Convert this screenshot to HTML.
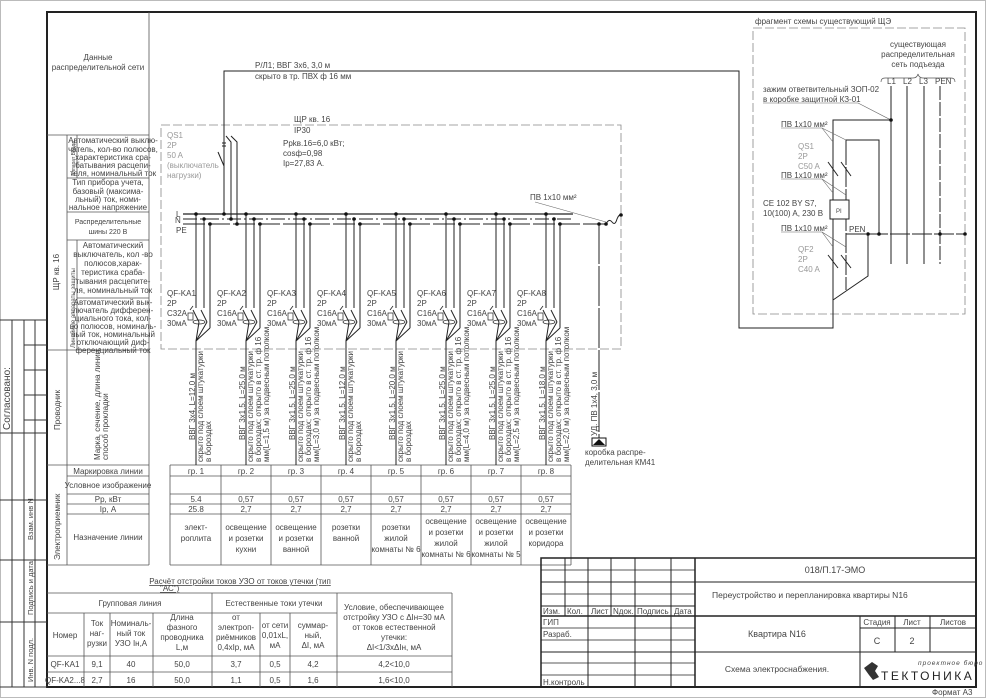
<!DOCTYPE html>
<html><head><meta charset="utf-8"><style>
html,body{margin:0;padding:0;background:#fff}
svg{display:block}
text{font-family:"Liberation Sans Narrow","Liberation Sans",sans-serif;fill:#444;font-size:8px}
.g{fill:#999}
.c{text-anchor:middle}
</style></head><body>
<svg width="988" height="699" viewBox="0 0 988 699" xmlns="http://www.w3.org/2000/svg">
<rect x="0.5" y="0.5" width="985" height="697" fill="#fff" stroke="#bbb"/>
<rect x="47" y="12" width="929" height="675" fill="none" stroke="#222" stroke-width="2"/>
<g stroke="#333" stroke-width="1" fill="none">
<polyline points="0,320 47,320"/>
<line x1="12" y1="320" x2="12" y2="687"/>
<line x1="24" y1="320" x2="24" y2="687"/>
<line x1="35" y1="320" x2="35" y2="687"/>
<line x1="24" y1="345" x2="47" y2="345"/>
<line x1="24" y1="370" x2="47" y2="370"/>
<line x1="24" y1="395" x2="47" y2="395"/>
<line x1="24" y1="420" x2="47" y2="420"/>
<line x1="0" y1="433" x2="47" y2="433"/>
<line x1="0" y1="500" x2="47" y2="500"/>
<line x1="0" y1="560" x2="47" y2="560"/>
<line x1="0" y1="622" x2="47" y2="622"/>
<line x1="0" y1="687" x2="47" y2="687"/>
</g>
<text transform="translate(10,430) rotate(-90)" style="font-size:10px">Согласовано:</text>
<text transform="translate(33,540) rotate(-90)" style="font-size:7.5px">Взам. инв N</text>
<text transform="translate(33,615) rotate(-90)" style="font-size:7.5px">Подпись и дата</text>
<text transform="translate(33,682) rotate(-90)" style="font-size:7.5px">Инв. N подл.</text>

<g stroke="#555" stroke-width="0.8" fill="none">
<line x1="149" y1="12" x2="149" y2="565"/>
<line x1="47" y1="135" x2="149" y2="135"/>
<line x1="67" y1="135" x2="67" y2="565"/>
<line x1="77" y1="135" x2="77" y2="178"/>
<line x1="77" y1="240" x2="77" y2="350"/>
<line x1="67" y1="178" x2="149" y2="178"/>
<line x1="67" y1="212" x2="149" y2="212"/>
<line x1="67" y1="240" x2="149" y2="240"/>
<line x1="77" y1="298" x2="149" y2="298"/>
<line x1="47" y1="350" x2="149" y2="350"/>
<line x1="47" y1="465" x2="149" y2="465"/>
<line x1="67" y1="476" x2="149" y2="476"/>
<line x1="67" y1="494" x2="149" y2="494"/>
<line x1="67" y1="504" x2="149" y2="504"/>
<line x1="67" y1="514" x2="149" y2="514"/>
<line x1="47" y1="565" x2="149" y2="565"/>
</g>
<text x="98" y="60" class="c">Данные</text>
<text x="98" y="70" class="c">распределительной сети</text>
<text transform="translate(75,176) rotate(-90)" style="font-size:5px">Аппарат Ввода</text>
<g style="font-size:5.8px">
<text x="113" y="143" class="c">Автоматический выклю-</text>
<text x="113" y="152" class="c">чатель, кол-во полюсов,</text>
<text x="113" y="160" class="c">характеристика сра-</text>
<text x="113" y="168" class="c">батывания расцепи-</text>
<text x="113" y="176" class="c">теля, номинальный ток</text>
</g>
<g style="font-size:6.3px">
<text x="108" y="185" class="c">Тип прибора учета,</text>
<text x="108" y="194" class="c">базовый (максима-</text>
<text x="108" y="202" class="c">льный) ток, номи-</text>
<text x="108" y="210" class="c">нальное напряжение</text>
<text x="108" y="224" class="c" style="font-size:7px">Распределительные</text>
<text x="108" y="234" class="c" style="font-size:7px">шины 220 В</text>
<text x="113" y="248" class="c">Автоматический</text>
<text x="113" y="257" class="c">выключатель, кол -во</text>
<text x="113" y="266" class="c">полюсов,харак-</text>
<text x="113" y="275" class="c">теристика сраба-</text>
<text x="113" y="284" class="c">тывания расцепите-</text>
<text x="113" y="293" class="c">ля, номинальный ток</text>
<text x="113" y="305" class="c">Автоматический вык-</text>
<text x="113" y="313" class="c">лючатель дифферен-</text>
<text x="113" y="321" class="c">циального тока, кол-</text>
<text x="113" y="329" class="c">во полюсов, номиналь-</text>
<text x="113" y="337" class="c">ный ток, номинальный</text>
<text x="113" y="345" class="c">отключающий диф-</text>
<text x="113" y="353" class="c">ференциальный ток</text>
</g>
<text transform="translate(59,272) rotate(-90)" class="c">ЩР кв. 16</text>
<text transform="translate(75,348) rotate(-90)" style="font-size:6px">Линейные аппараты защиты</text>
<text transform="translate(60,430) rotate(-90)">Проводник</text>
<g style="font-size:6.5px">
<text transform="translate(100,460) rotate(-90)">Марка, сечение, длина линии,</text>
<text transform="translate(108,460) rotate(-90)">способ прокладки</text>
</g>
<text transform="translate(60,560) rotate(-90)">Электроприемник</text>
<text x="108" y="474" class="c">Маркировка линии</text>
<text x="108" y="488" class="c">Условное изображение</text>
<text x="108" y="502" class="c">Рр, кВт</text>
<text x="108" y="512" class="c">Ip, А</text>
<text x="108" y="540" class="c">Назначение линии</text>

<g stroke="#555" stroke-width="0.8" fill="none">
<line x1="170" y1="465" x2="571" y2="465"/>
<line x1="170" y1="476" x2="571" y2="476"/>
<line x1="170" y1="494" x2="571" y2="494"/>
<line x1="170" y1="504" x2="571" y2="504"/>
<line x1="170" y1="514" x2="571" y2="514"/>
<line x1="170" y1="565" x2="571" y2="565"/>
<line x1="170" y1="465" x2="170" y2="565"/>
<line x1="221" y1="465" x2="221" y2="565"/>
<line x1="271" y1="465" x2="271" y2="565"/>
<line x1="321" y1="465" x2="321" y2="565"/>
<line x1="371" y1="465" x2="371" y2="565"/>
<line x1="421" y1="465" x2="421" y2="565"/>
<line x1="471" y1="465" x2="471" y2="565"/>
<line x1="521" y1="465" x2="521" y2="565"/>
<line x1="571" y1="465" x2="571" y2="565"/>
</g>
<g style="font-size:7.5px">
<text x="196" y="474" class="c">гр. 1</text><text x="246" y="474" class="c">гр. 2</text><text x="296" y="474" class="c">гр. 3</text><text x="346" y="474" class="c">гр. 4</text><text x="396" y="474" class="c">гр. 5</text><text x="446" y="474" class="c">гр. 6</text><text x="496" y="474" class="c">гр. 7</text><text x="546" y="474" class="c">гр. 8</text>
<text x="196" y="502" class="c">5.4</text><text x="246" y="502" class="c">0,57</text><text x="296" y="502" class="c">0,57</text><text x="346" y="502" class="c">0,57</text><text x="396" y="502" class="c">0,57</text><text x="446" y="502" class="c">0,57</text><text x="496" y="502" class="c">0,57</text><text x="546" y="502" class="c">0,57</text>
<text x="196" y="512" class="c">25.8</text><text x="246" y="512" class="c">2,7</text><text x="296" y="512" class="c">2,7</text><text x="346" y="512" class="c">2,7</text><text x="396" y="512" class="c">2,7</text><text x="446" y="512" class="c">2,7</text><text x="496" y="512" class="c">2,7</text><text x="546" y="512" class="c">2,7</text>
<text x="196" y="530" class="c">элект-</text><text x="196" y="541" class="c">роплита</text>
<text x="246" y="530" class="c">освещение</text><text x="246" y="541" class="c">и розетки</text><text x="246" y="552" class="c">кухни</text>
<text x="296" y="530" class="c">освещение</text><text x="296" y="541" class="c">и розетки</text><text x="296" y="552" class="c">ванной</text>
<text x="346" y="530" class="c">розетки</text><text x="346" y="541" class="c">ванной</text>
<text x="396" y="530" class="c">розетки</text><text x="396" y="541" class="c">жилой</text><text x="396" y="552" class="c">комнаты № 6</text>
<text x="446" y="524" class="c">освещение</text><text x="446" y="535" class="c">и розетки</text><text x="446" y="546" class="c">жилой</text><text x="446" y="557" class="c">комнаты № 6</text>
<text x="496" y="524" class="c">освещение</text><text x="496" y="535" class="c">и розетки</text><text x="496" y="546" class="c">жилой</text><text x="496" y="557" class="c">комнаты № 5</text>
<text x="546" y="524" class="c">освещение</text><text x="546" y="535" class="c">и розетки</text><text x="546" y="546" class="c">коридора</text>
</g>

<g fill="none" stroke="#888" stroke-width="0.8" stroke-dasharray="9,3">
<rect x="161" y="125" width="460" height="224"/>
<rect x="753" y="28" width="212" height="286"/>
</g>

<polyline points="224,214 224,71 739,71 739,328 833,328 833,120 891,120" fill="none" stroke="#222" stroke-width="1"/>
<text x="255" y="68">Р/Л1; ВВГ 3х6, 3,0 м</text>
<text x="255" y="79">скрыто в тр. ПВХ ф 16 мм</text>
<text x="294" y="122">ЩР кв. 16</text>
<text x="294" y="133">IP30</text>
<text x="283" y="146">Ррkв.16=6,0 кВт;</text>
<text x="283" y="156">cosф=0,98</text>
<text x="283" y="166">Ip=27,83 А.</text>
<g style="font-size:8px">
<text x="167" y="138" class="g">QS1</text><text x="167" y="148" class="g">2P</text><text x="167" y="158" class="g">50 A</text><text x="167" y="168" class="g">(выключатель</text><text x="167" y="178" class="g">нагрузки)</text>
</g>
<g stroke="#222" stroke-width="1" fill="none">
<line x1="224" y1="135" x2="224" y2="214"/>
<polyline points="226,136 231,142 231,219"/>
<polyline points="231,136 237,142 237,224"/>
<line x1="218" y1="152" x2="224" y2="166"/>
<line x1="222" y1="143" x2="226" y2="143"/><line x1="222" y1="146" x2="226" y2="146"/>
</g>
<g stroke="#222" fill="none">
<line x1="183" y1="214" x2="573" y2="214" stroke-width="1.3"/>
<line x1="183" y1="219" x2="573" y2="219" stroke-width="1" stroke-dasharray="14,3,2,3"/>
<line x1="183" y1="224" x2="606" y2="224" stroke-width="1" stroke-dasharray="22,3"/>
<path d="M606,224 q3,-6 6,-2 q3,4 5,-3 q2,-5 4,-4" stroke-width="1"/>
<line x1="599" y1="224" x2="599" y2="438" stroke-width="1" stroke-dasharray="40,2"/>
<line x1="535" y1="202" x2="606" y2="222" stroke="#666" stroke-width="0.6"/>
</g>
<circle cx="599" cy="224" r="1.8" fill="#111"/><circle cx="606" cy="224" r="1.8" fill="#111"/><circle cx="621" cy="215" r="1.8" fill="#111"/>
<circle cx="224" cy="214" r="1.8" fill="#111"/><circle cx="231" cy="219" r="1.8" fill="#111"/><circle cx="237" cy="224" r="1.8" fill="#111"/>
<text x="530" y="200">ПВ 1х10 мм²</text>
<text x="176" y="217">L</text><text x="175" y="223">N</text><text x="176" y="233">PE</text>
<path d="M592,438 h14 v8 h-14 z" fill="#fff" stroke="#111"/><path d="M593,445 l6,-6 l6,6 z" fill="#111"/>
<text transform="translate(597,436) rotate(-90)">УД. ПВ 1х4, 3,0 м</text>
<text x="585" y="455">коробка распре-</text>
<text x="585" y="465">делительная КМ41</text>

<defs>
<g id="br">
<g stroke="#222" stroke-width="1" fill="none">
<line x1="0" y1="214" x2="0" y2="308"/>
<line x1="8" y1="219" x2="8" y2="308"/>
<line x1="14" y1="224" x2="14" y2="328"/>
<line x1="-3" y1="310" x2="3" y2="322"/>
<line x1="5" y1="310" x2="11" y2="322"/>
<line x1="3" y1="322" x2="0" y2="341"/>
<line x1="11" y1="322" x2="0" y2="341"/>
<line x1="14" y1="328" x2="0" y2="341"/>
<line x1="0" y1="341" x2="0" y2="465"/>
<rect x="-8" y="313" width="5" height="7" stroke-width="0.7"/>
<ellipse cx="3" cy="322" rx="6" ry="2" stroke-width="0.7"/>
<line x1="-6" y1="310" x2="-3" y2="306" stroke-width="0.8"/>
</g>
<circle cx="0" cy="214" r="1.8" fill="#111"/><circle cx="8" cy="219" r="1.8" fill="#111"/><circle cx="14" cy="224" r="1.8" fill="#111"/>
</g>
</defs>
<use href="#br" x="196"/><use href="#br" x="246"/><use href="#br" x="296"/><use href="#br" x="346"/>
<use href="#br" x="396"/><use href="#br" x="446"/><use href="#br" x="496"/><use href="#br" x="546"/>
<g style="font-size:8px">
<text x="167" y="296">QF-KA1</text><text x="167" y="306">2P</text><text x="167" y="316">C32A</text><text x="167" y="326">30мА</text>
<text x="217" y="296">QF-KA2</text><text x="217" y="306">2P</text><text x="217" y="316">C16A</text><text x="217" y="326">30мА</text>
<text x="267" y="296">QF-KA3</text><text x="267" y="306">2P</text><text x="267" y="316">C16A</text><text x="267" y="326">30мА</text>
<text x="317" y="296">QF-KA4</text><text x="317" y="306">2P</text><text x="317" y="316">C16A</text><text x="317" y="326">30мА</text>
<text x="367" y="296">QF-KA5</text><text x="367" y="306">2P</text><text x="367" y="316">C16A</text><text x="367" y="326">30мА</text>
<text x="417" y="296">QF-KA6</text><text x="417" y="306">2P</text><text x="417" y="316">C16A</text><text x="417" y="326">30мА</text>
<text x="467" y="296">QF-KA7</text><text x="467" y="306">2P</text><text x="467" y="316">C16A</text><text x="467" y="326">30мА</text>
<text x="517" y="296">QF-KA8</text><text x="517" y="306">2P</text><text x="517" y="316">C16A</text><text x="517" y="326">30мА</text>
</g>
<g style="font-size:6.5px">
<text transform="translate(195,440) rotate(-90)">ВВГ 3х4, L=12,0 м</text>
<text transform="translate(203,462) rotate(-90)">скрыто под слоем штукатурки</text>
<text transform="translate(211,462) rotate(-90)">в бороздах</text>
<text transform="translate(245,440) rotate(-90)">ВВГ 3х1,5, L=25,0 м</text>
<text transform="translate(253,462) rotate(-90)">скрыто под слоем штукатурки</text>
<text transform="translate(261,462) rotate(-90)">в бороздах; открыто в ст. тр. ф 16</text>
<text transform="translate(269,462) rotate(-90)">мм(L=1,5 м) за подвесным потолком</text>
<text transform="translate(295,440) rotate(-90)">ВВГ 3х1,5, L=25,0 м</text>
<text transform="translate(303,462) rotate(-90)">скрыто под слоем штукатурки</text>
<text transform="translate(311,462) rotate(-90)">в бороздах; открыто в ст. тр. ф 16</text>
<text transform="translate(319,462) rotate(-90)">мм(L=3,0 м) за подвесным потолком</text>
<text transform="translate(345,440) rotate(-90)">ВВГ 3х1,5, L=12,0 м</text>
<text transform="translate(353,462) rotate(-90)">скрыто под слоем штукатурки</text>
<text transform="translate(361,462) rotate(-90)">в бороздах</text>
<text transform="translate(395,440) rotate(-90)">ВВГ 3х1,5, L=20,0 м</text>
<text transform="translate(403,462) rotate(-90)">скрыто под слоем штукатурки</text>
<text transform="translate(411,462) rotate(-90)">в бороздах</text>
<text transform="translate(445,440) rotate(-90)">ВВГ 3х1,5, L=25,0 м</text>
<text transform="translate(453,462) rotate(-90)">скрыто под слоем штукатурки</text>
<text transform="translate(461,462) rotate(-90)">в бороздах; открыто в ст. тр. ф 16</text>
<text transform="translate(469,462) rotate(-90)">мм(L=4,0 м) за подвесным потолком</text>
<text transform="translate(495,440) rotate(-90)">ВВГ 3х1,5, L=25,0 м</text>
<text transform="translate(503,462) rotate(-90)">скрыто под слоем штукатурки</text>
<text transform="translate(511,462) rotate(-90)">в бороздах; открыто в ст. тр. ф 16</text>
<text transform="translate(519,462) rotate(-90)">мм(L=2,5 м) за подвесным потолком</text>
<text transform="translate(545,440) rotate(-90)">ВВГ 3х1,5, L=18,0 м</text>
<text transform="translate(553,462) rotate(-90)">скрыто под слоем штукатурки</text>
<text transform="translate(561,462) rotate(-90)">в бороздах; открыто в ст. тр. ф 16</text>
<text transform="translate(569,462) rotate(-90)">мм(L=2,0 м) за подвесным потолком</text>
</g>

<text x="755" y="24">фрагмент схемы существующий ЩЭ</text>
<text x="918" y="47" class="c">существующая</text>
<text x="918" y="57" class="c">распределительная</text>
<text x="918" y="67" class="c">сеть подъезда</text>
<path d="M881,82 q0,-4 4,-4 h28 q4,0 5,-4 q1,4 5,4 h28 q4,0 4,4" fill="none" stroke="#555" stroke-width="0.7"/>
<text x="887" y="84">L1</text><text x="903" y="84">L2</text><text x="919" y="84">L3</text><text x="935" y="84">PEN</text>
<g stroke="#222" stroke-width="1" fill="none">
<line x1="891" y1="86" x2="891" y2="264"/>
<line x1="907" y1="86" x2="907" y2="264"/>
<line x1="924" y1="86" x2="924" y2="264"/>
<line x1="940" y1="86" x2="940" y2="264" stroke-dasharray="14,2"/>
<line x1="846" y1="234" x2="965" y2="234" stroke-dasharray="20,2"/>
<polyline points="846,145 846,140 879,140 879,234"/>
<line x1="846" y1="145" x2="846" y2="290" stroke-dasharray="20,2"/>
<polyline points="833,300 868,276 868,234"/>
<line x1="828" y1="162" x2="838" y2="176"/>
<line x1="841" y1="162" x2="851" y2="176"/>
<line x1="828" y1="255" x2="838" y2="268"/>
<line x1="841" y1="255" x2="851" y2="268"/>
<rect x="830" y="200" width="19" height="19" fill="#fff"/>
<line x1="763" y1="103" x2="858" y2="103" stroke="#666" stroke-width="0.6"/>
<line x1="858" y1="103" x2="891" y2="120" stroke="#666" stroke-width="0.6"/>
<g stroke="#666" stroke-width="0.6">
<line x1="781" y1="128" x2="822" y2="128"/><line x1="822" y1="128" x2="833" y2="142"/><line x1="822" y1="128" x2="846" y2="140"/>
<line x1="781" y1="179" x2="822" y2="179"/><line x1="822" y1="179" x2="833" y2="193"/><line x1="822" y1="179" x2="846" y2="195"/>
<line x1="781" y1="232" x2="822" y2="232"/><line x1="822" y1="232" x2="833" y2="247"/><line x1="822" y1="232" x2="846" y2="247"/>
</g>
</g>
<circle cx="891" cy="120" r="1.8" fill="#111"/><circle cx="868" cy="234" r="1.8" fill="#111"/><circle cx="879" cy="234" r="1.8" fill="#111"/><circle cx="940" cy="234" r="1.8" fill="#111"/><circle cx="965" cy="234" r="1.8" fill="#111"/>
<text x="836" y="213" style="font-size:6px">PI</text>
<text x="849" y="232">PEN</text>
<text x="763" y="92">зажим ответвительный ЗОП-02</text>
<text x="763" y="102">в коробке защитной КЗ-01</text>
<text x="781" y="127">ПВ 1х10 мм²</text>
<text x="781" y="178">ПВ 1х10 мм²</text>
<text x="781" y="231">ПВ 1х10 мм²</text>
<text x="763" y="206">CE 102 BY S7,</text>
<text x="763" y="216">10(100) A, 230 В</text>
<g style="font-size:8.5px">
<text x="798" y="149" class="g">QS1</text><text x="798" y="159" class="g">2P</text><text x="798" y="169" class="g">C50 A</text>
<text x="798" y="252" class="g">QF2</text><text x="798" y="262" class="g">2P</text><text x="798" y="272" class="g">C40 A</text>
</g>

<text x="240" y="584" class="c" text-decoration="underline">Расчёт отстройки токов УЗО от токов утечки (тип</text>
<text x="160" y="591" text-decoration="underline">"АС")</text>
<g stroke="#555" stroke-width="0.8" fill="none">
<line x1="47" y1="593" x2="452" y2="593"/>
<line x1="47" y1="613" x2="337" y2="613"/>
<line x1="47" y1="656" x2="452" y2="656"/>
<line x1="47" y1="672" x2="452" y2="672"/>
<line x1="84" y1="613" x2="84" y2="687"/>
<line x1="110" y1="613" x2="110" y2="687"/>
<line x1="153" y1="613" x2="153" y2="687"/>
<line x1="212" y1="593" x2="212" y2="687"/>
<line x1="260" y1="613" x2="260" y2="687"/>
<line x1="290" y1="613" x2="290" y2="687"/>
<line x1="337" y1="593" x2="337" y2="687"/>
<line x1="452" y1="593" x2="452" y2="687"/>
</g>
<g style="font-size:7.5px">
<text x="130" y="606" class="c">Групповая линия</text>
<text x="274" y="606" class="c">Естественные токи утечки</text>
<text x="394" y="610" class="c">Условие, обеспечивающее</text>
<text x="394" y="620" class="c">отстройку УЗО с ΔIн=30 мА</text>
<text x="394" y="630" class="c">от токов естественной</text>
<text x="394" y="640" class="c">утечки:</text>
<text x="394" y="650" class="c">ΔI&lt;1/3хΔIн, мА</text>
<text x="65" y="638" class="c">Номер</text>
<text x="97" y="626" class="c">Ток</text><text x="97" y="636" class="c">наг-</text><text x="97" y="646" class="c">рузки</text>
<text x="131" y="626" class="c">Номиналь-</text><text x="131" y="636" class="c">ный ток</text><text x="131" y="646" class="c">УЗО Iн,А</text>
<text x="182" y="620" class="c">Длина</text><text x="182" y="630" class="c">фазного</text><text x="182" y="640" class="c">проводника</text><text x="182" y="650" class="c">L,м</text>
<text x="236" y="620" class="c">от</text><text x="236" y="630" class="c">электроп-</text><text x="236" y="640" class="c">риёмников</text><text x="236" y="650" class="c">0,4хIр, мА</text>
<text x="275" y="628" class="c">от сети</text><text x="275" y="638" class="c">0,01хL,</text><text x="275" y="648" class="c">мА</text>
<text x="313" y="628" class="c">суммар-</text><text x="313" y="638" class="c">ный,</text><text x="313" y="648" class="c">ΔI, мА</text>
<text x="65" y="667" class="c">QF-KA1</text><text x="97" y="667" class="c">9,1</text><text x="131" y="667" class="c">40</text><text x="182" y="667" class="c">50,0</text><text x="236" y="667" class="c">3,7</text><text x="275" y="667" class="c">0,5</text><text x="313" y="667" class="c">4,2</text><text x="394" y="667" class="c">4,2&lt;10,0</text>
<text x="65" y="683" class="c">QF-KA2...8</text><text x="97" y="683" class="c">2,7</text><text x="131" y="683" class="c">16</text><text x="182" y="683" class="c">50,0</text><text x="236" y="683" class="c">1,1</text><text x="275" y="683" class="c">0,5</text><text x="313" y="683" class="c">1,6</text><text x="394" y="683" class="c">1,6&lt;10,0</text>
</g>

<g stroke="#222" stroke-width="1" fill="none">
<rect x="541" y="558" width="435" height="129" stroke-width="1.5"/>
<line x1="565" y1="558" x2="565" y2="616"/>
<line x1="588" y1="558" x2="588" y2="687"/>
<line x1="611" y1="558" x2="611" y2="616"/>
<line x1="635" y1="558" x2="635" y2="687"/>
<line x1="671" y1="558" x2="671" y2="687"/>
<line x1="695" y1="558" x2="695" y2="687" stroke-width="1.5"/>
<line x1="541" y1="570" x2="695" y2="570" stroke-width="0.7"/>
<line x1="541" y1="582" x2="976" y2="582"/>
<line x1="541" y1="594" x2="695" y2="594" stroke-width="0.7"/>
<line x1="541" y1="606" x2="695" y2="606"/>
<line x1="541" y1="616" x2="976" y2="616" stroke-width="1.5"/>
<line x1="541" y1="628" x2="695" y2="628" stroke-width="0.7"/>
<line x1="541" y1="640" x2="695" y2="640" stroke-width="0.7"/>
<line x1="541" y1="652" x2="976" y2="652"/>
<line x1="541" y1="663" x2="695" y2="663" stroke-width="0.7"/>
<line x1="541" y1="675" x2="695" y2="675" stroke-width="0.7"/>
<line x1="860" y1="616" x2="860" y2="687"/>
<line x1="895" y1="616" x2="895" y2="652"/>
<line x1="930" y1="616" x2="930" y2="652"/>
<line x1="860" y1="628" x2="976" y2="628"/>
</g>
<g style="font-size:7px">
<text x="543" y="614">Изм.</text><text x="567" y="614">Кол.</text><text x="591" y="614">Лист</text><text x="613" y="614">Nдок.</text><text x="637" y="614">Подпись</text><text x="674" y="614">Дата</text>
<text x="543" y="625">ГИП</text><text x="543" y="637">Разраб.</text><text x="543" y="685">Н.контроль</text>
<text x="877" y="625" class="c">Стадия</text><text x="912" y="625" class="c">Лист</text><text x="953" y="625" class="c">Листов</text>
</g>
<text x="835" y="573" class="c" style="font-size:9px">018/П.17-ЭМО</text>
<text x="712" y="598" style="font-size:8.5px">Переустройство и перепланировка квартиры N16</text>
<text x="777" y="637" class="c" style="font-size:9px">Квартира N16</text>
<text x="777" y="672" class="c" style="font-size:8.5px">Схема электроснабжения.</text>
<text x="877" y="644" class="c" style="font-size:9px">С</text><text x="912" y="644" class="c" style="font-size:9px">2</text>
<text x="918" y="665" style="font-size:6.5px;font-style:italic;letter-spacing:1px">проектное бюро</text>
<text x="881" y="680" style="font-size:12px;letter-spacing:2.5px;fill:#222">ТЕКТОНИКА</text>
<path d="M864,668 l8,-6 l6,4 l-3,5 l4,6 l-6,3 l-4,-5 z" fill="#333"/>
<text x="932" y="695" style="font-size:8px">Формат А3</text>
</svg>
</body></html>
